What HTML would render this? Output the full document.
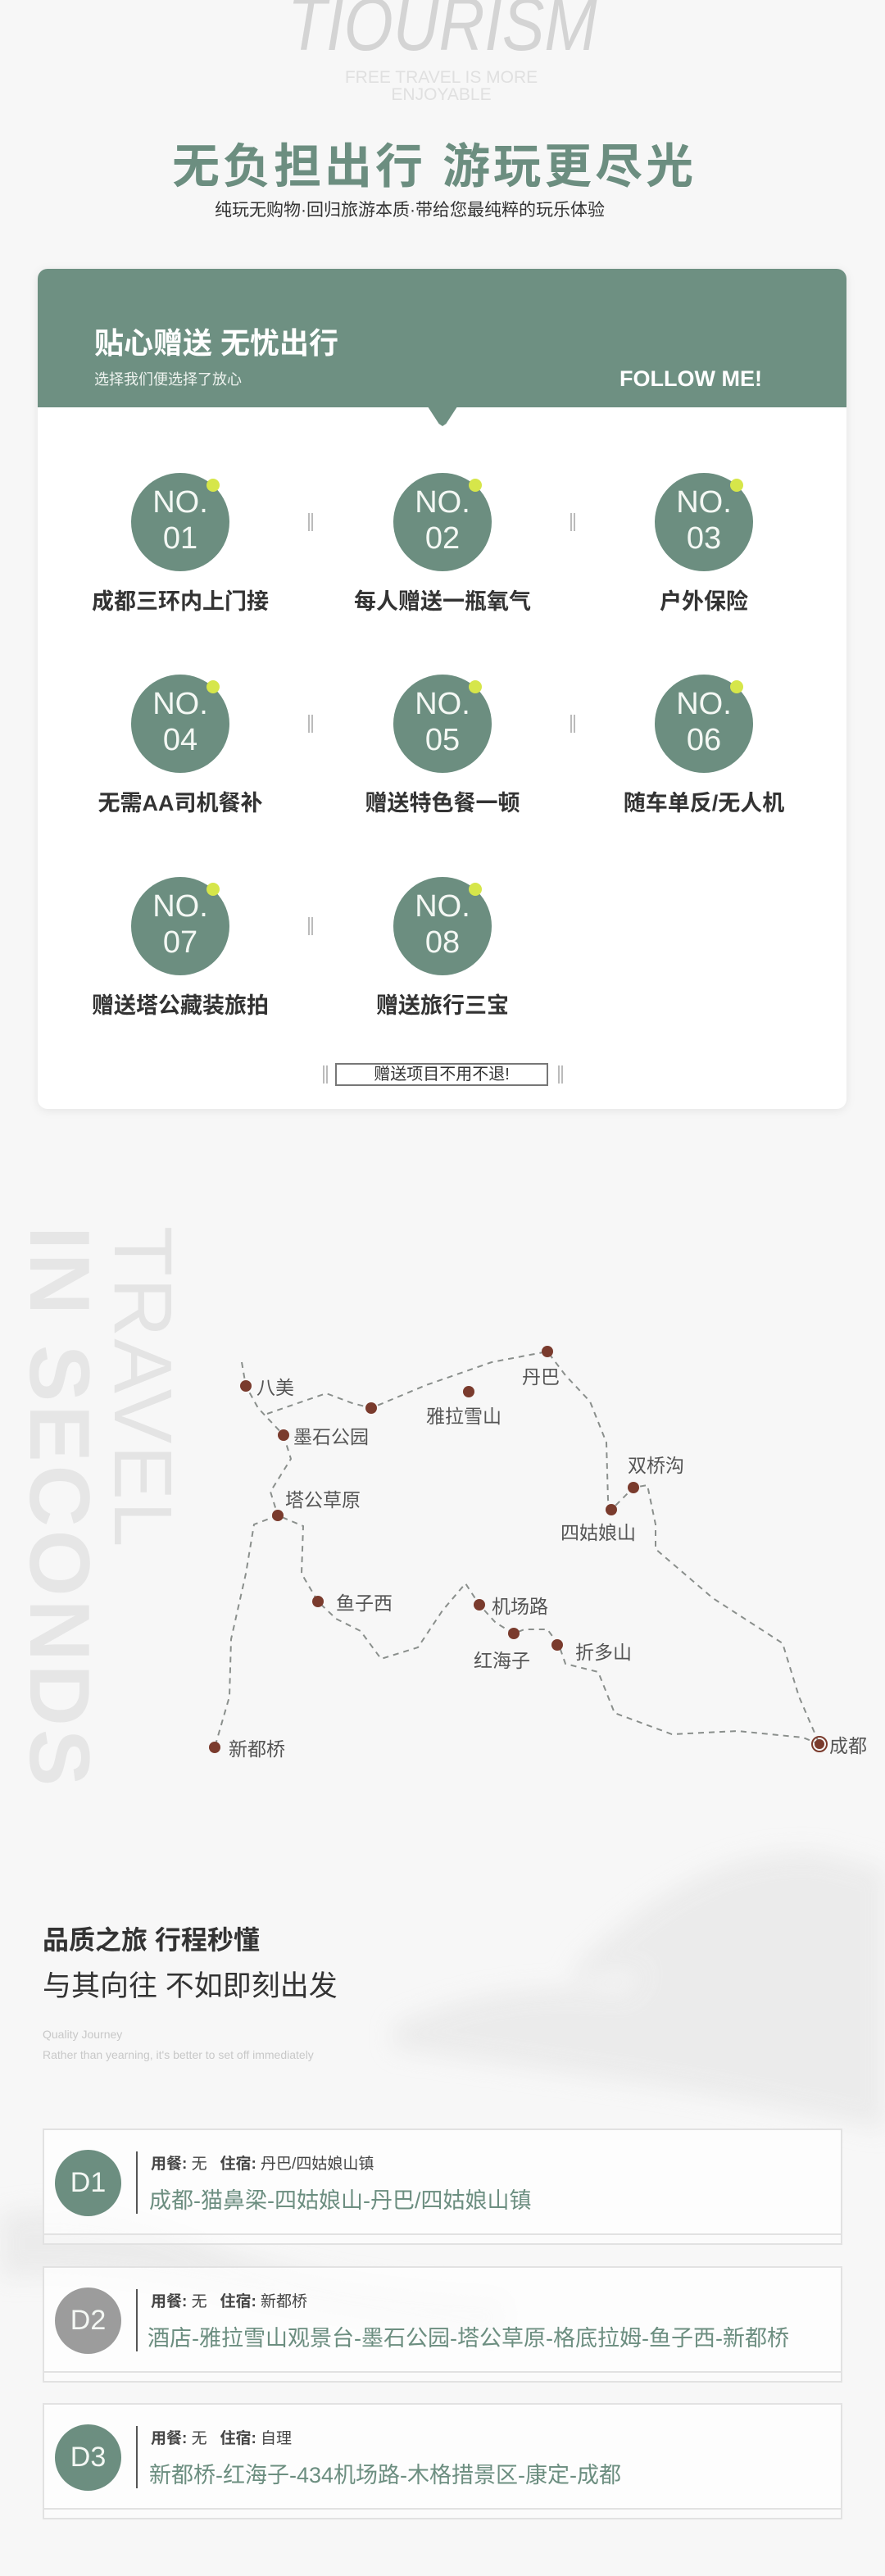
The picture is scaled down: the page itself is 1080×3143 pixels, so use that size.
<!DOCTYPE html>
<html><head><meta charset="utf-8"><style>
*{margin:0;padding:0;box-sizing:border-box}
body{width:1080px;height:3143px;background:#f7f7f7;position:relative;overflow:hidden;font-family:"Liberation Sans","Noto Sans CJK SC",sans-serif}
.a{position:absolute;white-space:nowrap}
.c{position:absolute;width:120px;height:120px;border-radius:50%;background:#6c8e80;color:#f4f8f4;text-align:center;font-size:38px;line-height:44px;padding-top:14px;font-family:"Liberation Sans",sans-serif}
.c i{position:absolute;width:16px;height:16px;border-radius:50%;background:#d6e64a;left:92px;top:7px}
.lb{position:absolute;width:320px;text-align:center;font-size:27px;color:#333;font-weight:bold}
.sep{position:absolute;width:6px;height:22px;border-left:2px solid #bbb;border-right:2px solid #bbb}
.card{position:absolute;left:52px;width:976px;height:130px;background:rgba(255,255,255,.75);border:2px solid #e2e2e2}
.card2{position:absolute;left:52px;width:976px;height:12px;border:2px solid #e2e2e2;border-top:none;background:rgba(255,255,255,.5)}
.d{position:absolute;left:13px;top:24px;width:81px;height:81px;border-radius:50%;background:#6c8e80;color:#f4f8f4;font-size:34px;text-align:center;line-height:81px}
.vl{position:absolute;left:112px;top:26px;width:2px;height:76px;background:#555}
.l1{position:absolute;left:130px;top:26px;font-size:19px;color:#444}
.l1 b{font-weight:bold}
.l2{position:absolute;left:128px;top:64px;font-size:27px;color:#6c8e80;white-space:nowrap}
.ml{position:absolute;font-size:23px;color:#555;white-space:nowrap;transform:translateY(-50%)}
</style></head><body>
<svg class="a" style="left:0;top:0" width="1080" height="3143">
<defs><filter id="b"><feGaussianBlur stdDeviation="14"/></filter></defs>
<g fill="#e9e9e9" filter="url(#b)" opacity=".8">
<path d="M0 2700 Q120 2680 260 2740 Q400 2790 620 2800 L620 2860 Q420 2830 260 2800 Q100 2770 0 2780Z"/>
<path d="M480 2470 Q620 2410 760 2430 Q840 2340 920 2360 Q1000 2300 1080 2340 L1080 2600 Q900 2560 760 2540 Q620 2520 480 2500Z"/>
<path d="M700 2400 Q850 2250 1000 2260 L1080 2280 L1080 2420 Q900 2380 700 2420Z"/>
</g>
</svg>
<div class="a" style="left:351px;top:-22px;font-size:92px;font-style:italic;color:#d4d4d4;font-weight:300;transform-origin:0 0;transform:scaleX(.84)">TIOURISM</div>
<div class="a" style="left:400px;top:84px;width:277px;text-align:center;font-size:21px;line-height:21px;color:#e0e0e0;white-space:normal">FREE TRAVEL IS MORE ENJOYABLE</div>
<div class="a" style="left:210px;top:156px;font-size:58px;font-weight:bold;color:#6c8e80;letter-spacing:4px">无负担出行 游玩更尽光</div>
<div class="a" style="left:262px;top:240px;font-size:21px;color:#333">纯玩无购物·回归旅游本质·带给您最纯粹的玩乐体验</div>

<div class="a" style="left:46px;top:328px;width:987px;height:1025px;background:#fff;border-radius:12px;box-shadow:0 2px 12px rgba(0,0,0,.08);overflow:hidden">
 <div style="position:absolute;left:0;top:0;width:987px;height:169px;background:#6e9082"></div>
</div>
<div class="a" style="left:518px;top:490px;width:44px;height:30px;background:#6e9082;clip-path:polygon(0 0,100% 0,60% 90%,50% 100%,40% 90%)"></div>
<div class="a" style="left:115px;top:390px;font-size:36px;font-weight:bold;color:#fff">贴心赠送 无忧出行</div>
<div class="a" style="left:115px;top:449px;font-size:18px;color:#eef3ef">选择我们便选择了放心</div>
<div class="a" style="left:756px;top:447px;font-size:27px;font-weight:bold;color:#fff">FOLLOW ME!</div>

<div class="c" style="left:160px;top:577px">NO.<br>01<i></i></div>
<div class="c" style="left:480px;top:577px">NO.<br>02<i></i></div>
<div class="c" style="left:799px;top:577px">NO.<br>03<i></i></div>
<div class="c" style="left:160px;top:823px">NO.<br>04<i></i></div>
<div class="c" style="left:480px;top:823px">NO.<br>05<i></i></div>
<div class="c" style="left:799px;top:823px">NO.<br>06<i></i></div>
<div class="c" style="left:160px;top:1070px">NO.<br>07<i></i></div>
<div class="c" style="left:480px;top:1070px">NO.<br>08<i></i></div>
<div class="lb" style="left:60px;top:712px">成都三环内上门接</div>
<div class="lb" style="left:380px;top:712px">每人赠送一瓶氧气</div>
<div class="lb" style="left:699px;top:712px">户外保险</div>
<div class="lb" style="left:60px;top:958px">无需AA司机餐补</div>
<div class="lb" style="left:380px;top:958px">赠送特色餐一顿</div>
<div class="lb" style="left:699px;top:958px">随车单反/无人机</div>
<div class="lb" style="left:60px;top:1205px">赠送塔公藏装旅拍</div>
<div class="lb" style="left:380px;top:1205px">赠送旅行三宝</div>
<div class="sep" style="left:376px;top:626px"></div><div class="sep" style="left:696px;top:626px"></div>
<div class="sep" style="left:376px;top:872px"></div><div class="sep" style="left:696px;top:872px"></div>
<div class="sep" style="left:376px;top:1119px"></div>
<div class="sep" style="left:394px;top:1300px"></div><div class="sep" style="left:681px;top:1300px"></div>
<div class="a" style="left:409px;top:1297px;width:260px;height:28px;border:2px solid #777;font-size:20px;line-height:24px;text-align:center;color:#333">赠送项目不用不退!</div>

<div class="a" style="left:131px;top:1496px;transform-origin:0 0;transform:rotate(90deg);font-size:104px;font-weight:bold;color:#e6e6e6;letter-spacing:4px">IN SECONDS</div>
<div class="a" style="left:231px;top:1496px;transform-origin:0 0;transform:rotate(90deg);font-size:100px;font-weight:100;color:#e4e4e4;letter-spacing:2px">TRAVEL</div>

<svg class="a" style="left:0;top:0" width="1080" height="3143">
<g fill="none" stroke="#8a8f8c" stroke-width="2" stroke-dasharray="7 6">
<path d="M295 1662 L300 1691 L315 1718 L346 1751"/>
<path d="M326 1725 L398 1700 L430 1712 L453 1718 L520 1690 L600 1662 L668 1649 L690 1678 L720 1710 L740 1760 L742 1830 L746 1842 L773 1815 L790 1812 L800 1860 L800 1890 L870 1950 L955 2005 L975 2070 L1000 2128"/>
<path d="M1000 2128 L980 2120 L900 2112 L820 2116 L750 2090 L730 2040 L690 2030 L682 2007 L668 1988 L640 1988 L627 1993 L605 1980 L585 1958 L568 1932 L540 1965 L510 2010 L465 2024 L440 1990 L410 1975 L388 1954 L368 1920 L370 1862 L339 1849 L310 1860 L300 1920 L282 2000 L280 2070 L262 2132"/>
<path d="M346 1751 L355 1780 L330 1820 L339 1849"/>
</g>
<g fill="#7a3b2d">
<circle cx="300" cy="1691" r="7"/><circle cx="346" cy="1751" r="7"/><circle cx="453" cy="1718" r="7"/>
<circle cx="572" cy="1698" r="7"/><circle cx="668" cy="1649" r="7"/><circle cx="773" cy="1815" r="7"/>
<circle cx="746" cy="1842" r="7"/><circle cx="339" cy="1849" r="7"/><circle cx="388" cy="1954" r="7"/>
<circle cx="585" cy="1958" r="7"/><circle cx="627" cy="1993" r="7"/><circle cx="680" cy="2007" r="7"/>
<circle cx="262" cy="2132" r="7"/><circle cx="1000" cy="2128" r="6"/>
</g>
<circle cx="1000" cy="2128" r="9" fill="none" stroke="#7a3b2d" stroke-width="2"/>
</svg>
<div class="ml" style="left:313px;top:1691px">八美</div>
<div class="ml" style="left:358px;top:1751px">墨石公园</div>
<div class="ml" style="left:520px;top:1726px">雅拉雪山</div>
<div class="ml" style="left:637px;top:1678px">丹巴</div>
<div class="ml" style="left:766px;top:1786px">双桥沟</div>
<div class="ml" style="left:684px;top:1868px">四姑娘山</div>
<div class="ml" style="left:348px;top:1828px">塔公草原</div>
<div class="ml" style="left:410px;top:1954px">鱼子西</div>
<div class="ml" style="left:600px;top:1958px">机场路</div>
<div class="ml" style="left:578px;top:2024px">红海子</div>
<div class="ml" style="left:702px;top:2014px">折多山</div>
<div class="ml" style="left:1012px;top:2128px">成都</div>
<div class="ml" style="left:279px;top:2132px">新都桥</div>

<div class="a" style="left:52px;top:2342px;font-size:32px;font-weight:bold;color:#333">品质之旅 行程秒懂</div>
<div class="a" style="left:52px;top:2395px;font-size:35px;color:#333">与其向往 不如即刻出发</div>
<div class="a" style="left:52px;top:2474px;font-size:14px;color:#c8c8c8">Quality Journey</div>
<div class="a" style="left:52px;top:2499px;font-size:14px;color:#c8c8c8">Rather than yearning, it's better to set off immediately</div>

<div class="card" style="top:2597px"><div class="d">D1</div><div class="vl"></div>
<div class="l1"><b>用餐:</b> 无 &nbsp; <b>住宿:</b> 丹巴/四姑娘山镇</div><div class="l2">成都-猫鼻梁-四姑娘山-丹巴/四姑娘山镇</div></div>
<div class="card2" style="top:2727px"></div>
<div class="card" style="top:2765px"><div class="d" style="background:#9c9c9c">D2</div><div class="vl"></div>
<div class="l1"><b>用餐:</b> 无 &nbsp; <b>住宿:</b> 新都桥</div><div class="l2" style="left:126px">酒店-雅拉雪山观景台-墨石公园-塔公草原-格底拉姆-鱼子西-新都桥</div></div>
<div class="card2" style="top:2895px"></div>
<div class="card" style="top:2932px"><div class="d">D3</div><div class="vl"></div>
<div class="l1"><b>用餐:</b> 无 &nbsp; <b>住宿:</b> 自理</div><div class="l2">新都桥-红海子-434机场路-木格措景区-康定-成都</div></div>
<div class="card2" style="top:3062px"></div>
</body></html>
